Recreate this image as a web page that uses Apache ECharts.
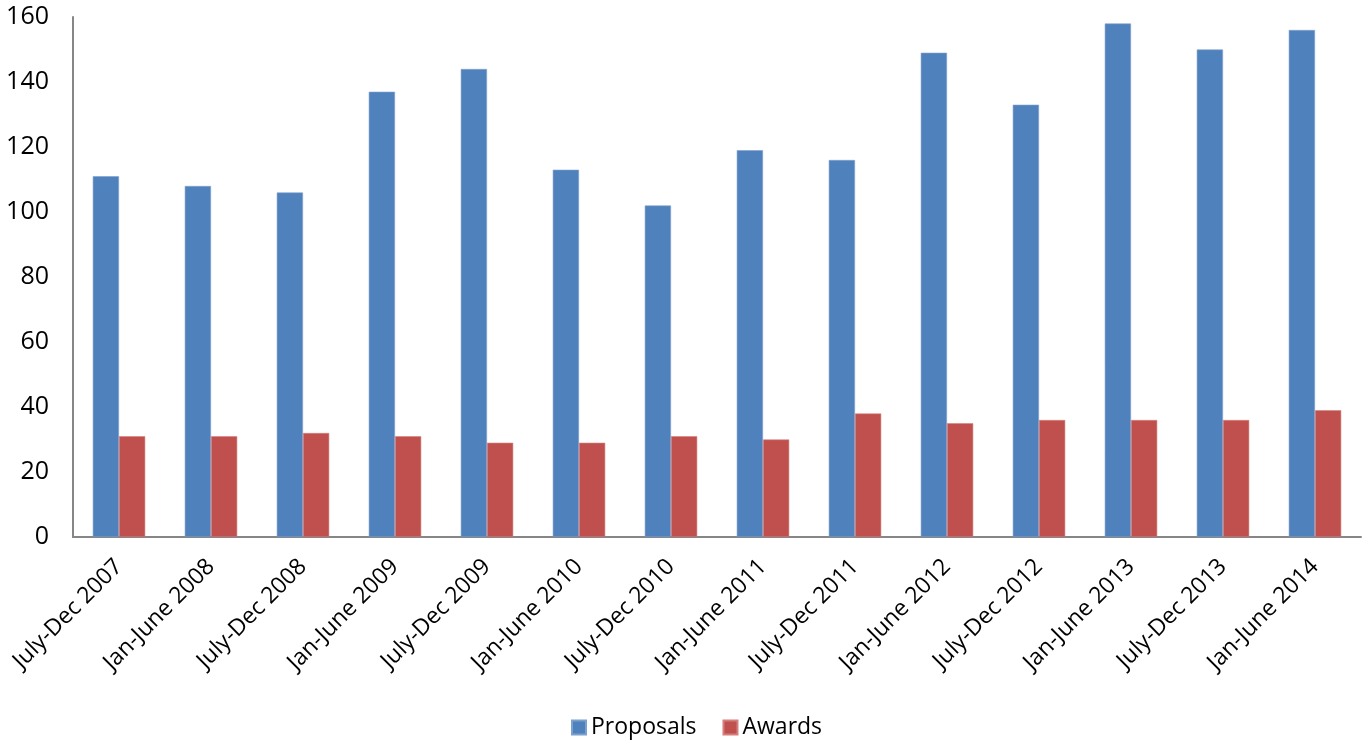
<!DOCTYPE html>
<html><head><meta charset="utf-8">
<script src="https://cdn.jsdelivr.net/npm/echarts@6/dist/echarts.min.js"></script>
<style>html,body{margin:0;padding:0;background:#fff}#c{width:1369px;height:744px}</style>
</head><body><div id="c"></div>
<script>
const categories = ['July-Dec 2007','Jan-June 2008','July-Dec 2008','Jan-June 2009','July-Dec 2009','Jan-June 2010','July-Dec 2010','Jan-June 2011','July-Dec 2011','Jan-June 2012','July-Dec 2012','Jan-June 2013','July-Dec 2013','Jan-June 2014'];
const proposals = [111,108,106,137,144,113,102,119,116,149,133,158,150,156];
const awards = [31,31,32,31,29,29,31,30,38,35,36,36,36,39];
const yTicks = [0,20,40,60,80,100,120,140,160];

const font = "'Open Sans', 'Noto Sans', sans-serif";
const chart = echarts.init(document.getElementById('c'));
chart.setOption({
  animation: false,
  textStyle: {fontFamily: font},
  legend: {
    bottom: 0, left: 566, itemWidth: 14, itemHeight: 14, itemGap: 26,
    icon: 'rect',
    textStyle: {fontSize: 23, color: '#000', fontFamily: font},
    data: ['Proposals','Awards']
  },
  grid: {left: 73, right: 8, top: 17, bottom: 207, containLabel: false},
  xAxis: {
    type: 'category', data: categories,
    axisLine: {lineStyle: {color: '#868686', width: 2}},
    axisTick: {show: false},
    axisLabel: {rotate: 45, interval: 0, fontSize: 23, color: '#000', margin: 26, fontFamily: font}
  },
  yAxis: {
    type: 'value', min: yTicks[0], max: yTicks[yTicks.length-1], interval: 20,
    axisLine: {show: true, lineStyle: {color: '#868686', width: 2}},
    axisTick: {show: false},
    splitLine: {show: false},
    axisLabel: {fontSize: 25, color: '#000', margin: 24, fontFamily: font}
  },
  series: [
    {name: 'Proposals', type: 'bar', data: proposals, barGap: '0%', barCategoryGap: '43%',
     itemStyle: {color: '#4F81BD', borderColor: '#7DA0CC', borderWidth: 0.6}},
    {name: 'Awards', type: 'bar', data: awards, barGap: '0%', barCategoryGap: '43%',
     itemStyle: {color: '#C0504D', borderColor: '#D47F7D', borderWidth: 0.6}}
  ]
});
</script></body></html>
